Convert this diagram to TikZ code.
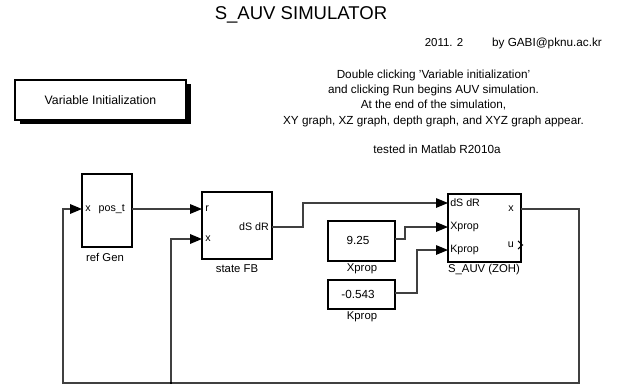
\documentclass[tikz,border=0pt]{standalone}
\usepackage{fontspec}
\setmainfont{Liberation Sans}
\usetikzlibrary{arrows.meta,fit,shadows}
\newcommand\pxfont[1]{\fontsize{#1pt}{#1pt}\selectfont}
\begin{document}
\begin{tikzpicture}[x=0.75pt,y=-0.75pt,
  blk/.style={draw=black,line width=0.8pt,fill=white,inner sep=0pt},
  sig/.style={draw=black!75,line width=0.85pt},
  arr/.style={sig,-{Triangle[length=9pt,width=7.2pt,fill=black,color=black]}},
  port/.style={font=\pxfont{8},inner sep=0pt},
  lbl/.style={font=\pxfont{8.5},inner sep=0pt},
  txt/.style={inner sep=0pt}
]
\useasboundingbox (0,0) rectangle (628,385);

% header texts
\node[txt,font=\pxfont{13.9}] (title) at (301,15) {S\_AUV SIMULATOR};
\node[txt,font=\pxfont{8.6}] (date) at (444,43) {2011. 2};
\node[txt,font=\pxfont{8.8}] (author) at (547,43) {by GABI@pknu.ac.kr};

% variable initialization button
\node[blk,font=\pxfont{9.2},minimum width=128.25pt,minimum height=30pt,
      drop shadow={shadow xshift=4pt,shadow yshift=-3.2pt,fill=black,opacity=1}]
      (varinit) at (100.5,100) {Variable Initialization};

% description
\node[txt,align=center,font=\fontsize{8.8pt}{11.5pt}\selectfont] (desc) at (433.5,98)
  {Double clicking 'Variable initialization'\\
   and clicking Run begins AUV simulation.\\
   At the end of the simulation,\\
   XY graph, XZ graph, depth graph, and XYZ graph appear.};
\node[txt,font=\pxfont{8.8}] (tested) at (437,149) {tested in Matlab R2010a};

% ref Gen
\node[blk,fit={(82,174)(132,247)}] (refgen) {};
\node[port,anchor=west] (rgx) at (85,209) {x};
\node[port,anchor=east] (rgpos) at (125,209) {pos\_t};
\node[lbl] (rglbl) at (105,257) {ref Gen};

% state FB
\node[blk,fit={(202,192)(272,259)}] (statefb) {};
\node[port,anchor=west] (sfrl) at (205,209) {r};
\node[port,anchor=west] (sfxl) at (205,239) {x};
\node[port,anchor=east] (sfol) at (269,227) {dS dR};
\node[lbl] (sflbl) at (237,269) {state FB};

% constants
\node[blk,fit={(328,221)(395,261)}] (const1) {};
\node[lbl,font=\pxfont{8.8}] (c1v) at (358,240) {9.25};
\node[lbl] (c1lbl) at (362,269) {Xprop};
\node[blk,fit={(328,280)(395,309)}] (const2) {};
\node[lbl,font=\pxfont{8.8}] (c2v) at (358,294) {-0.543};
\node[lbl] (c2lbl) at (362,317) {Kprop};

% S_AUV (ZOH)
\node[blk,fit={(448,194)(521,262)}] (sauv) {};
\node[port,anchor=west] (sdl) at (450,203) {dS dR};
\node[port,anchor=west] (sxpl) at (450,227) {Xprop};
\node[port,anchor=west] (skpl) at (450,250) {Kprop};
\node[port,anchor=east] (sxl) at (514,209) {x};
\node[port,anchor=east] (sul) at (514,245) {u};
\draw[line width=0.8pt] (518,241) -- (522.5,245) -- (518,249);
\node[lbl] (slbl) at (484,270) {S\_AUV (ZOH)};

% port coordinates
\coordinate (rgin) at (82,209);
\coordinate (rgout) at (132,209);
\coordinate (sfr) at (202,209);
\coordinate (sfx) at (202,239);
\coordinate (sfout) at (272,227);
\coordinate (c1out) at (395,239);
\coordinate (c2out) at (395,293);
\coordinate (sdsdr) at (448,203);
\coordinate (sxp) at (448,227);
\coordinate (skp) at (448,250);
\coordinate (sx) at (521,209);
\coordinate (fbA) at (579,383);
\coordinate (fbB) at (63,383);
\coordinate (junc) at (171,383);

% connectors
\draw[arr] (rgout) -- (sfr);
\draw[arr] (sfout) -- ++(31,0) |- (sdsdr);
\draw[arr] (c1out) -- ++(10,0) |- (sxp);
\draw[arr] (c2out) -- ++(22,0) |- (skp);
\draw[arr,line width=1.1pt] (sx) -| (fbA) -- (fbB) |- (rgin);
\draw[arr,line width=1.1pt] (junc) |- (sfx);
\fill[black] (junc) ++(-1.2,-1.2) rectangle ++(2.4,2.4);
\end{tikzpicture}
\end{document}
